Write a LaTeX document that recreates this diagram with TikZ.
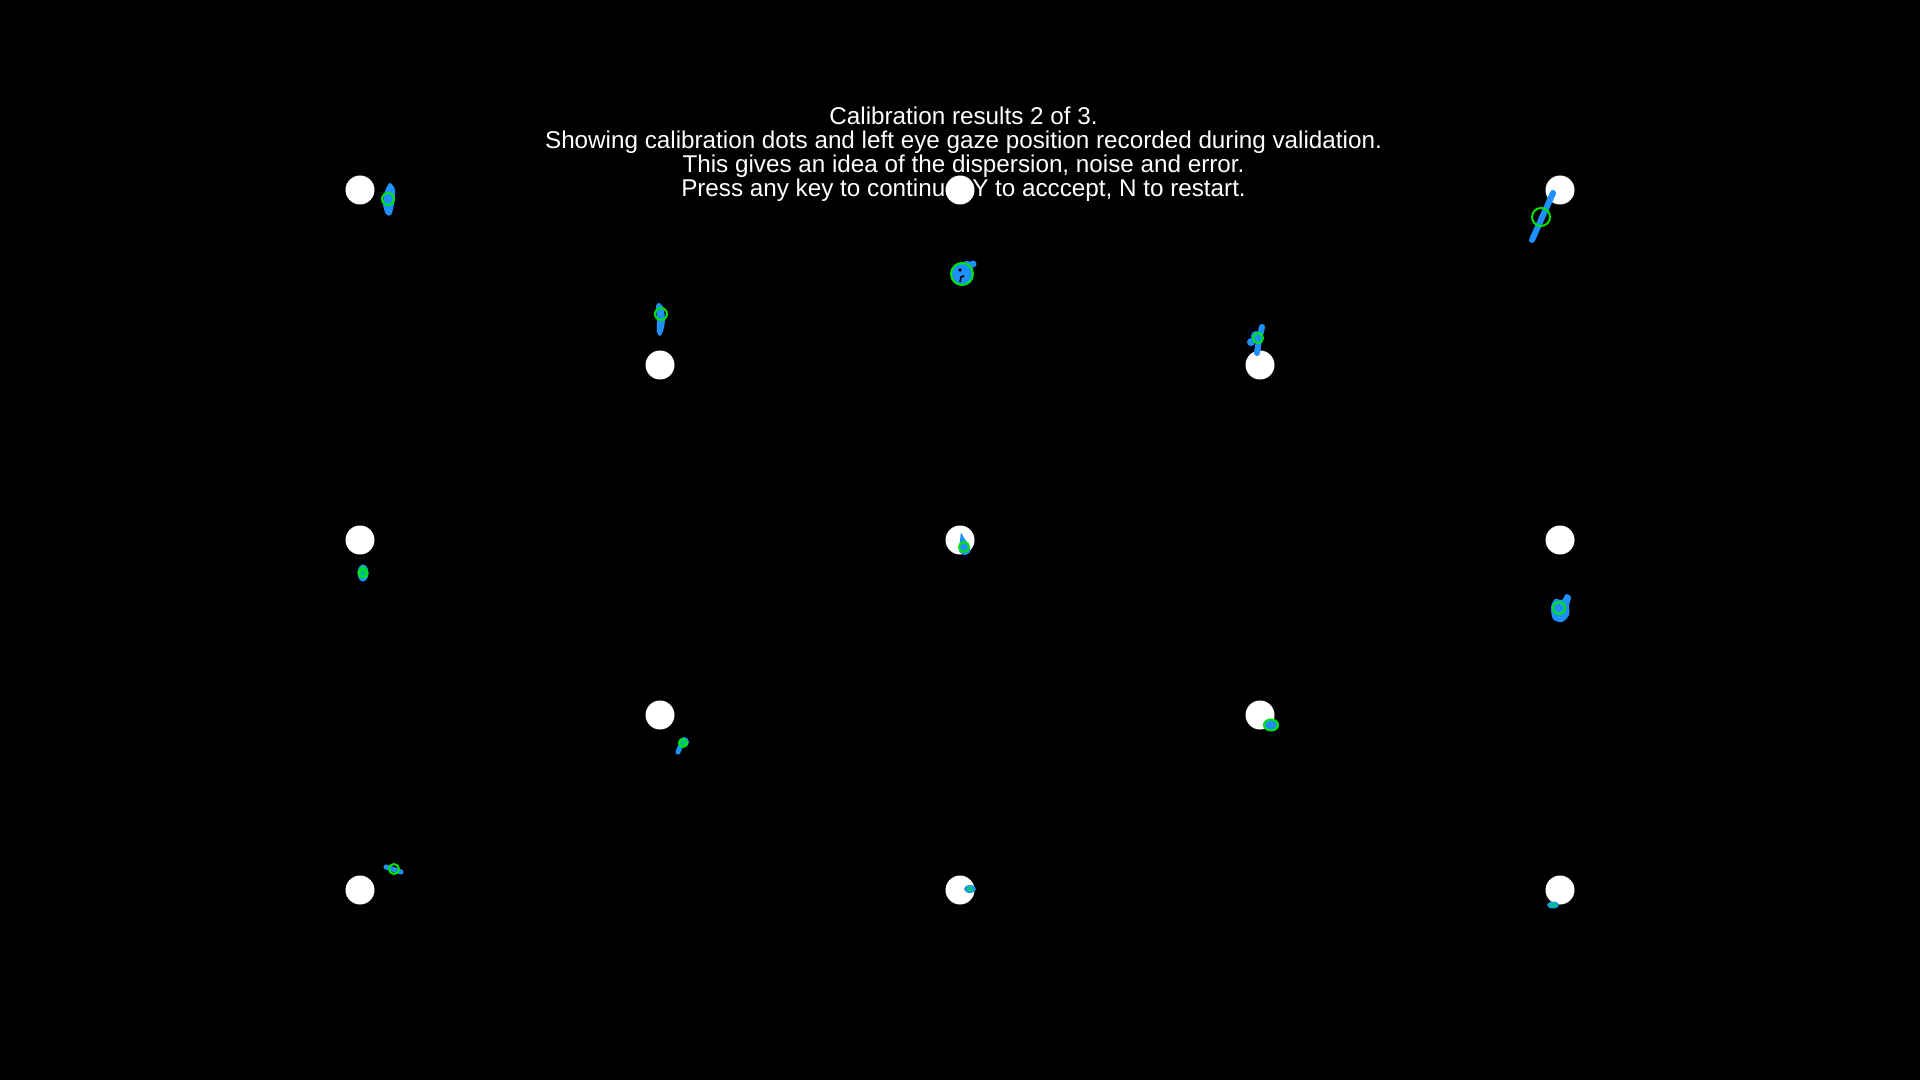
\documentclass[tikz,border=0pt]{standalone}
\usepackage{fontspec}
\setmainfont{Liberation Sans}
\definecolor{gazeblue}{RGB}{30,144,255}
\definecolor{gazegreen}{RGB}{0,230,0}
\definecolor{gazeteal}{RGB}{0,190,140}
\begin{document}
\begin{tikzpicture}[x=0.5pt,y=-0.5pt,
   calib/.style={fill=white},
   blob/.style={fill=gazeblue},
   trace/.style={draw=gazeblue,line width=3pt,line cap=round},
   mean/.style={draw=gazegreen,line width=1pt},
   msg/.style={text=white,font=\fontsize{12.12}{12}\selectfont,anchor=base,inner sep=0pt}]
   \fill[black] (0,0) rectangle (1920,1080);
   \useasboundingbox (0,0) rectangle (1920,1080);
   \foreach \i/\txt in {1/{Calibration results 2 of 3.},
      2/{Showing calibration dots and left eye gaze position recorded during validation.},
      3/{This gives an idea of the dispersion, noise and error.},
      4/{Press any key to continue, Y to acccept, N to restart.}}
      \node[msg] (line\i) at (963.5,101+24*\i) {\txt};
   \foreach \x/\y [count=\n] in {360/190, 960/190, 1560/190, 660/365, 1260/365, 360/540, 960/540,
      1560/540, 660/715, 1260/715, 360/890, 960/890, 1560/890}
      {\coordinate (dot\n) at (\x,\y); \fill[calib] (dot\n) circle (14.5);}
   \fill[blob] plot[smooth cycle] coordinates {(390,183) (395,190) (394,204) (391,215) (386,214) (383,204) (385,191)};
   \draw[mean] (388,199) circle (6);
   \fill[blob] (962,274) circle (10.5) (967,267) circle (6) (973,264) circle (3.5);
   \fill[black] (960,270) circle (1.8);
   \draw[black,line width=0.8pt] (960,282) -- (961,277) -- (964,276);
   \draw[mean] (962,274) circle (11);
   \draw[trace] (1553,193) -- (1532,240);
   \draw[mean] (1541,217) circle (9);
   \fill[blob] plot[smooth cycle] coordinates {(659,303) (663,307) (665,320) (663,331) (660,336) (657,332) (657,318) (656,306)};
   \draw[mean] (661,314) circle (6);
   \draw[trace,line width=3pt] (1262,327) -- (1259,340) -- (1257,353);
   \fill[blob] (1251,342) circle (4) (1256,336) circle (5);
   \draw[mean] (1258,338) circle (5);
   \fill[blob] (363,573) ellipse (5.5 and 8.5);
   \fill[gazeteal] (363,571) ellipse (4 and 6);
   \draw[mean] (363,573) circle (4.5);
   \fill[blob] plot[smooth cycle] coordinates {(961,533) (964,538) (969,545) (970,552) (965,555) (959,551) (960,541)};
   \draw[mean] (964,547) circle (5);
   \fill[blob] plot[smooth cycle] coordinates {(1566,594) (1571,597) (1569,605) (1569,615) (1562,622) (1553,619) (1551,607) (1555,599) (1562,600)};
   \draw[mean] (1559,608) circle (6);
   \fill[blob] (684,742) circle (5);
   \draw[trace,line width=2.5pt] (681,745) -- (678,752);
   \fill[gazeteal] (683,743) circle (3);
   \draw[mean] (683,743) circle (4);
   \fill[blob] (1271,725) ellipse (8 and 6);
   \draw[mean] (1271,725) ellipse (7 and 5.5);
   \draw[trace,line width=2.5pt] (386,867) -- (401,872);
   \draw[mean] (394,869) circle (5);
   \fill[blob] (970,889) ellipse (6 and 4);
   \fill[gazeteal] (970,889) ellipse (4 and 3);
   \fill[blob] (1553,905) ellipse (6 and 3.5);
   \fill[gazeteal] (1553,905) ellipse (4.5 and 2.5);
\end{tikzpicture}
\end{document}
